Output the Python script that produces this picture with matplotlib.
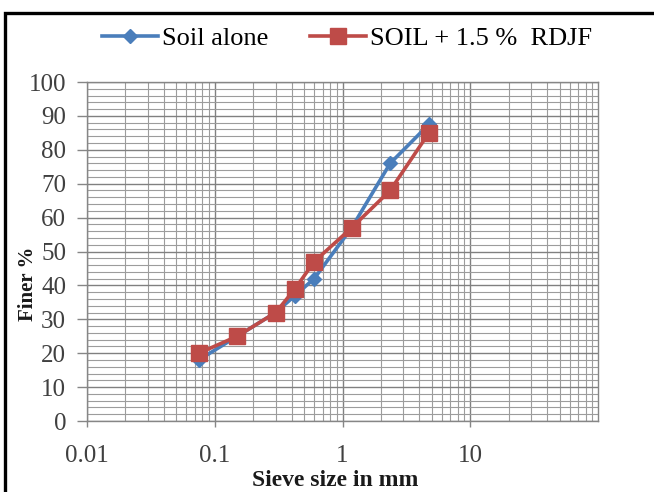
import numpy as np
import matplotlib.pyplot as plt
from matplotlib.patches import Rectangle
from matplotlib.ticker import LogLocator, MultipleLocator, FixedLocator, NullFormatter

# Sieve analysis data
sieve_mm = [0.075, 0.15, 0.3, 0.425, 0.6, 1.18, 2.36, 4.75]
soil_alone = [18, 25, 32, 37, 42, 57, 76, 87.5]
soil_rdjf = [20, 25, 32, 39, 47, 57, 68, 85]
x_ticks = [0.01, 0.1, 1, 10]
x_tick_labels = ["0.01", "0.1", "1", "10"]

plt.rcParams['font.family'] = ['Liberation Serif', 'DejaVu Serif']

W, H = 654, 492
fig = plt.figure(figsize=(W / 100, H / 100), dpi=100)
ax = fig.add_axes([87 / W, 1 - 421 / H, (598 - 87) / W, (421 - 82) / H])

blue = '#4A7EBB'
red = '#BE4B48'

ax.plot(sieve_mm, soil_alone, color=blue, lw=2.6, marker='D', ms=7.5,
        mfc=blue, mec=blue, label='Soil alone', zorder=3)
ax.plot(sieve_mm, soil_rdjf, color=red, lw=2.6, marker='s', ms=11.5,
        mfc=red, mec=red, label='SOIL + 1.5 %  RDJF', zorder=4)

ax.set_xscale('log')
ax.set_xlim(0.01, 100)
ax.set_ylim(0, 100)

ax.xaxis.set_major_locator(FixedLocator(x_ticks))
ax.set_xticklabels(x_tick_labels)
ax.xaxis.set_minor_locator(LogLocator(base=10, subs=np.arange(2, 10)))
ax.xaxis.set_minor_formatter(NullFormatter())
ax.yaxis.set_major_locator(MultipleLocator(10))
ax.yaxis.set_minor_locator(MultipleLocator(2))

ax.grid(True, which='major', color='#808080', lw=1.0)
ax.grid(True, which='minor', color='#9c9c9c', lw=0.8)
ax.set_axisbelow(True)

ax.tick_params(axis='x', which='major', length=4.5, width=1, color='#868686',
               labelsize=18, labelcolor='#404040', pad=13)
ax.tick_params(axis='y', which='major', length=7, width=1, color='#868686',
               labelsize=18, labelcolor='#404040', pad=8)
ax.tick_params(which='minor', length=0)

for s in ax.spines.values():
    s.set_color('#868686')
    s.set_linewidth(1)

fig.text(335 / W, 1 - 480 / H, 'Sieve size in mm', ha='center', va='center',
         fontsize=17, fontweight='bold', color='#1a1a1a')
fig.text(28 / W, 1 - 284 / H, 'Finer %', ha='center', va='center',
         rotation=90, fontsize=15, fontweight='bold', color='#1a1a1a')

fig.legend(loc='center', bbox_to_anchor=(347 / W, 1 - 38 / H), ncol=2,
           frameon=False, fontsize=19, handlelength=2.1, handletextpad=0.15,
           columnspacing=1.6)

# outer frame
fig.add_artist(Rectangle((5 / W, -0.2), 2, 1.2 - 13 / H, fill=False,
                         transform=fig.transFigure, lw=2.4, ec='black'))

fig.savefig('out.png', dpi=100)
